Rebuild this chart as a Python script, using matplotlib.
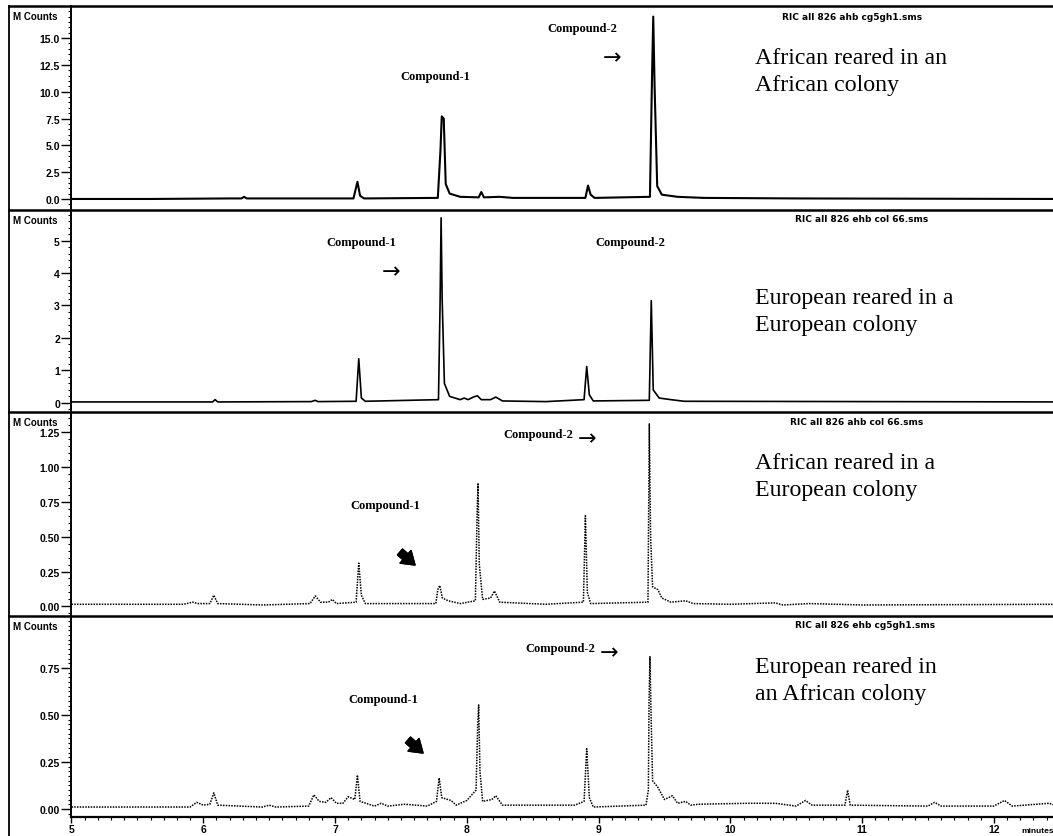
"""
Four stacked GC-MS chromatograms (RIC traces) comparing compound-1 and
compound-2 in African / European honey bees reared in either colony type.
"""

import matplotlib.pyplot as plt
from matplotlib.lines import Line2D
from matplotlib.ticker import MultipleLocator

# ---------------------------------------------------------------------------
# Data (retention time in minutes, MCounts)
# ---------------------------------------------------------------------------
p1_time = [5.00, 5.60, 6.20, 6.29, 6.31, 6.33, 7.14, 7.17, 7.19, 7.22,
           7.78, 7.80, 7.81, 7.825, 7.84, 7.87, 7.95, 8.09, 8.11, 8.13,
           8.25, 8.35, 8.90, 8.92, 8.94, 8.97, 9.39, 9.405, 9.415, 9.425,
           9.445, 9.48, 9.60, 9.80, 10.5, 12.5]
p1_counts = [0.0, 0.0, 0.05, 0.05, 0.2, 0.05, 0.05, 1.6, 0.3, 0.05,
             0.1, 4.5, 7.7, 7.5, 1.4, 0.5, 0.2, 0.15, 0.65, 0.15,
             0.2, 0.1, 0.1, 1.25, 0.4, 0.1, 0.2, 10.9, 17.0, 10.6,
             1.2, 0.4, 0.2, 0.1, 0.05, 0.0]

p2_time = [5.00, 6.07, 6.09, 6.11, 6.82, 6.85, 6.87, 7.16, 7.18, 7.20,
           7.23, 7.785, 7.797, 7.805, 7.813, 7.83, 7.87, 7.95, 7.98, 8.01,
           8.05, 8.08, 8.11, 8.18, 8.22, 8.27, 8.60, 8.89, 8.91, 8.93,
           8.96, 9.385, 9.40, 9.415, 9.46, 9.55, 9.65, 12.5]
p2_counts = [0.03, 0.03, 0.1, 0.03, 0.04, 0.08, 0.04, 0.05, 1.36, 0.15,
             0.05, 0.1, 3.0, 5.7, 3.2, 0.6, 0.2, 0.1, 0.15, 0.1,
             0.18, 0.22, 0.1, 0.1, 0.18, 0.06, 0.04, 0.1, 1.12, 0.25,
             0.06, 0.08, 3.15, 0.4, 0.15, 0.1, 0.05, 0.03]

p3_time = [5.00, 5.85, 5.92, 5.96, 6.05, 6.08, 6.11, 6.45, 6.81, 6.85,
           6.89, 6.95, 6.98, 7.01, 7.16, 7.18, 7.20, 7.23, 7.765, 7.78,
           7.795, 7.815, 7.86, 7.95, 8.065, 8.078, 8.085, 8.095, 8.12, 8.18,
           8.21, 8.25, 8.60, 8.885, 8.90, 8.915, 8.94, 9.375, 9.385, 9.395,
           9.41, 9.45, 9.48, 9.55, 9.66, 9.72, 10.0, 10.34, 10.4, 10.6,
           11.0, 12.5]
p3_counts = [0.015, 0.015, 0.03, 0.02, 0.02, 0.08, 0.02, 0.01, 0.02, 0.075,
             0.03, 0.03, 0.05, 0.02, 0.03, 0.31, 0.08, 0.02, 0.02, 0.12,
             0.15, 0.06, 0.04, 0.02, 0.04, 0.65, 0.885, 0.3, 0.05, 0.06,
             0.11, 0.03, 0.015, 0.03, 0.65, 0.1, 0.02, 0.03, 1.31, 0.5,
             0.14, 0.12, 0.06, 0.03, 0.04, 0.02, 0.015, 0.025, 0.01, 0.02,
             0.01, 0.015]

p4_time = [5.00, 5.90, 5.95, 6.00, 6.05, 6.08, 6.11, 6.45, 6.50, 6.55,
           6.80, 6.84, 6.88, 6.93, 6.97, 7.01, 7.06, 7.10, 7.15, 7.17,
           7.19, 7.30, 7.35, 7.40, 7.53, 7.70, 7.77, 7.79, 7.81, 7.88,
           7.92, 8.00, 8.07, 8.083, 8.09, 8.10, 8.12, 8.19, 8.22, 8.27,
           8.82, 8.89, 8.91, 8.93, 8.96, 9.36, 9.378, 9.383, 9.39, 9.397,
           9.41, 9.45, 9.50, 9.56, 9.60, 9.66, 9.70, 9.76, 10.14, 10.34,
           10.50, 10.57, 10.62, 10.87, 10.89, 10.91, 11.5, 11.55, 11.6, 12.0,
           12.08, 12.14, 12.42, 12.5]
p4_counts = [0.01, 0.01, 0.035, 0.02, 0.025, 0.085, 0.02, 0.01, 0.02, 0.01,
             0.015, 0.075, 0.04, 0.035, 0.06, 0.03, 0.03, 0.065, 0.05, 0.18,
             0.04, 0.015, 0.03, 0.015, 0.025, 0.015, 0.04, 0.165, 0.06, 0.045,
             0.02, 0.045, 0.1, 0.45, 0.553, 0.2, 0.04, 0.05, 0.07, 0.02,
             0.02, 0.04, 0.32, 0.06, 0.01, 0.02, 0.1, 0.56, 0.81, 0.55,
             0.15, 0.115, 0.05, 0.07, 0.03, 0.04, 0.02, 0.025, 0.03, 0.03,
             0.015, 0.045, 0.02, 0.02, 0.10, 0.02, 0.015, 0.035, 0.015, 0.015,
             0.045, 0.015, 0.03, 0.01]

file_names = ['RIC all 826 ahb cg5gh1.sms', 'RIC all 826 ehb col 66.sms',
              'RIC all 826 ahb col 66.sms', 'RIC all 826 ehb cg5gh1.sms']
group_names = ['African reared in an\nAfrican colony',
               'European reared in a\nEuropean colony',
               'African reared in a\nEuropean colony',
               'European reared in\nan African colony']
y_ticks = [[0.0, 2.5, 5.0, 7.5, 10.0, 12.5, 15.0],
           [0, 1, 2, 3, 4, 5],
           [0.00, 0.25, 0.50, 0.75, 1.00, 1.25],
           [0.00, 0.25, 0.50, 0.75]]
y_tick_fmt = ['%.1f', '%d', '%.2f', '%.2f']
y_minor = [0.5, 0.2, 0.05, 0.025]
y_limits = [(-1.0, 17.96), (-0.28, 5.95), (-0.067, 1.395), (-0.043, 1.028)]
x_ticks = [5, 6, 7, 8, 9, 10, 11, 12]

traces = [(p1_time, p1_counts), (p2_time, p2_counts),
          (p3_time, p3_counts), (p4_time, p4_counts)]

# ---------------------------------------------------------------------------
# Figure layout (pixel based, 1053 x 837 at 100 dpi)
# ---------------------------------------------------------------------------
W, H = 1053, 837
fig = plt.figure(figsize=(W / 100, H / 100), dpi=100)

sans = ['Liberation Sans', 'DejaVu Sans']
serif = ['Liberation Serif', 'DejaVu Serif']


def fx(x):
    return x / W


def fy(y):
    return 1 - y / H


panel_edges = [7.3, 210.7, 413.0, 616.7, 818.0]
ax_left, ax_right = 71, 1053

axes = []
for i in range(4):
    top, bot = panel_edges[i], panel_edges[i + 1]
    ax = fig.add_axes([fx(ax_left), fy(bot), fx(ax_right - ax_left), (bot - top) / H])
    t, c = traces[i]
    if i < 2:
        ax.plot(t, c, color='black', lw=1.5 if i == 0 else 1.2)
    else:
        ax.plot(t, c, color='black', lw=1.1, linestyle=(0, (1, 0.8)))
    ax.set_xlim(5 - 0.5 / 131.9, 5 + (ax_right - 70.5) / 131.9)
    ax.set_ylim(*y_limits[i])
    ax.set_yticks(y_ticks[i])
    ax.set_yticklabels([y_tick_fmt[i] % v for v in y_ticks[i]],
                       family=sans, fontsize=7.5, fontweight='bold')
    ax.yaxis.set_minor_locator(MultipleLocator(y_minor[i]))
    ax.tick_params(axis='y', which='major', direction='out', length=7, width=1.0, pad=1)
    ax.tick_params(axis='y', which='minor', direction='out', length=2.5, width=0.8)
    ax.tick_params(axis='y', which='major', right=True)
    for side in ['top', 'right']:
        ax.spines[side].set_visible(False)
    ax.spines['left'].set_linewidth(1.4)
    ax.patch.set_alpha(0)
    if i < 3:
        ax.spines['bottom'].set_visible(False)
        ax.set_xticks([])
    else:
        ax.spines['bottom'].set_linewidth(1.6)
        ax.set_xticks(x_ticks)
        ax.set_xticklabels([str(v) for v in x_ticks], family=sans,
                           fontsize=7.5, fontweight='bold')
        ax.xaxis.set_minor_locator(MultipleLocator(0.1))
        ax.tick_params(axis='x', which='major', direction='out', length=4, width=1.0, pad=1)
        ax.tick_params(axis='x', which='minor', direction='out', length=2.5, width=0.8)
    # the right-hand tick marks are short stubs at the cropped edge
    for tl in ax.yaxis.get_ticklines()[1::2]:
        tl.set_markersize(3)
    axes.append(ax)

# frame: separators across the full width and the outer left border
for y in panel_edges[:4]:
    fig.add_artist(Line2D([fx(9), fx(W)], [fy(y), fy(y)], color='black', lw=1.8))
fig.add_artist(Line2D([fx(9), fx(9)], [fy(7.3), fy(H)], color='black', lw=1.3))

# y-axis unit labels and file names
for i in range(4):
    top = panel_edges[i]
    fig.text(fx(13), fy(top + 10), 'M Counts', family=sans, fontsize=7,
             fontweight='bold', ha='left', va='center')
for name, (x, y) in zip(file_names, [(852, 17), (862, 220), (857, 423), (865, 626)]):
    fig.text(fx(x), fy(y), name, family=['DejaVu Sans'], fontsize=6.5,
             fontweight='bold', ha='center', va='center')
fig.text(fx(1021), fy(832), 'minutes', family=sans, fontsize=6,
         fontweight='bold', ha='left', va='center')

# group descriptions
for i, yc in enumerate([72, 312, 477, 681]):
    fig.text(fx(755), fy(yc), group_names[i], family=serif, fontsize=17.2,
             ha='left', va='center', linespacing=1.42)

# compound annotations
cmp_kw = dict(family=serif, fontsize=9, fontweight='bold', ha='center', va='center')
arr_kw = dict(family=['DejaVu Sans'], fontsize=16, ha='center', va='center')
fig.text(fx(435), fy(77), 'Compound-1', **cmp_kw)
fig.text(fx(582), fy(29), 'Compound-2', **cmp_kw)
fig.text(fx(612), fy(58), '\u2192', **arr_kw)

fig.text(fx(361), fy(243), 'Compound-1', **cmp_kw)
fig.text(fx(391), fy(272), '\u2192', **arr_kw)
fig.text(fx(630), fy(243), 'Compound-2', **cmp_kw)

fig.text(fx(538), fy(435), 'Compound-2', **cmp_kw)
fig.text(fx(587), fy(439), '\u2192', **arr_kw)
fig.text(fx(385), fy(506), 'Compound-1', **cmp_kw)

fig.text(fx(560), fy(649), 'Compound-2', **cmp_kw)
fig.text(fx(609), fy(653), '\u2192', **arr_kw)
fig.text(fx(383), fy(700), 'Compound-1', **cmp_kw)

# heavy south-east arrows pointing at compound-1 in the lower two traces
heavy = dict(arrowstyle='simple,head_length=0.9,head_width=1.2,tail_width=0.55',
             fc='black', ec='black', mutation_scale=10, shrinkA=0, shrinkB=0)
for (x0, y0, x1, y1) in [(400, 553, 415, 566), (408, 741, 423, 754)]:
    fig.add_artist(plt.annotate('', xy=(fx(x1), fy(y1)), xytext=(fx(x0), fy(y0)),
                                xycoords='figure fraction', textcoords='figure fraction',
                                arrowprops=heavy))

fig.savefig('out.png', dpi=100)
